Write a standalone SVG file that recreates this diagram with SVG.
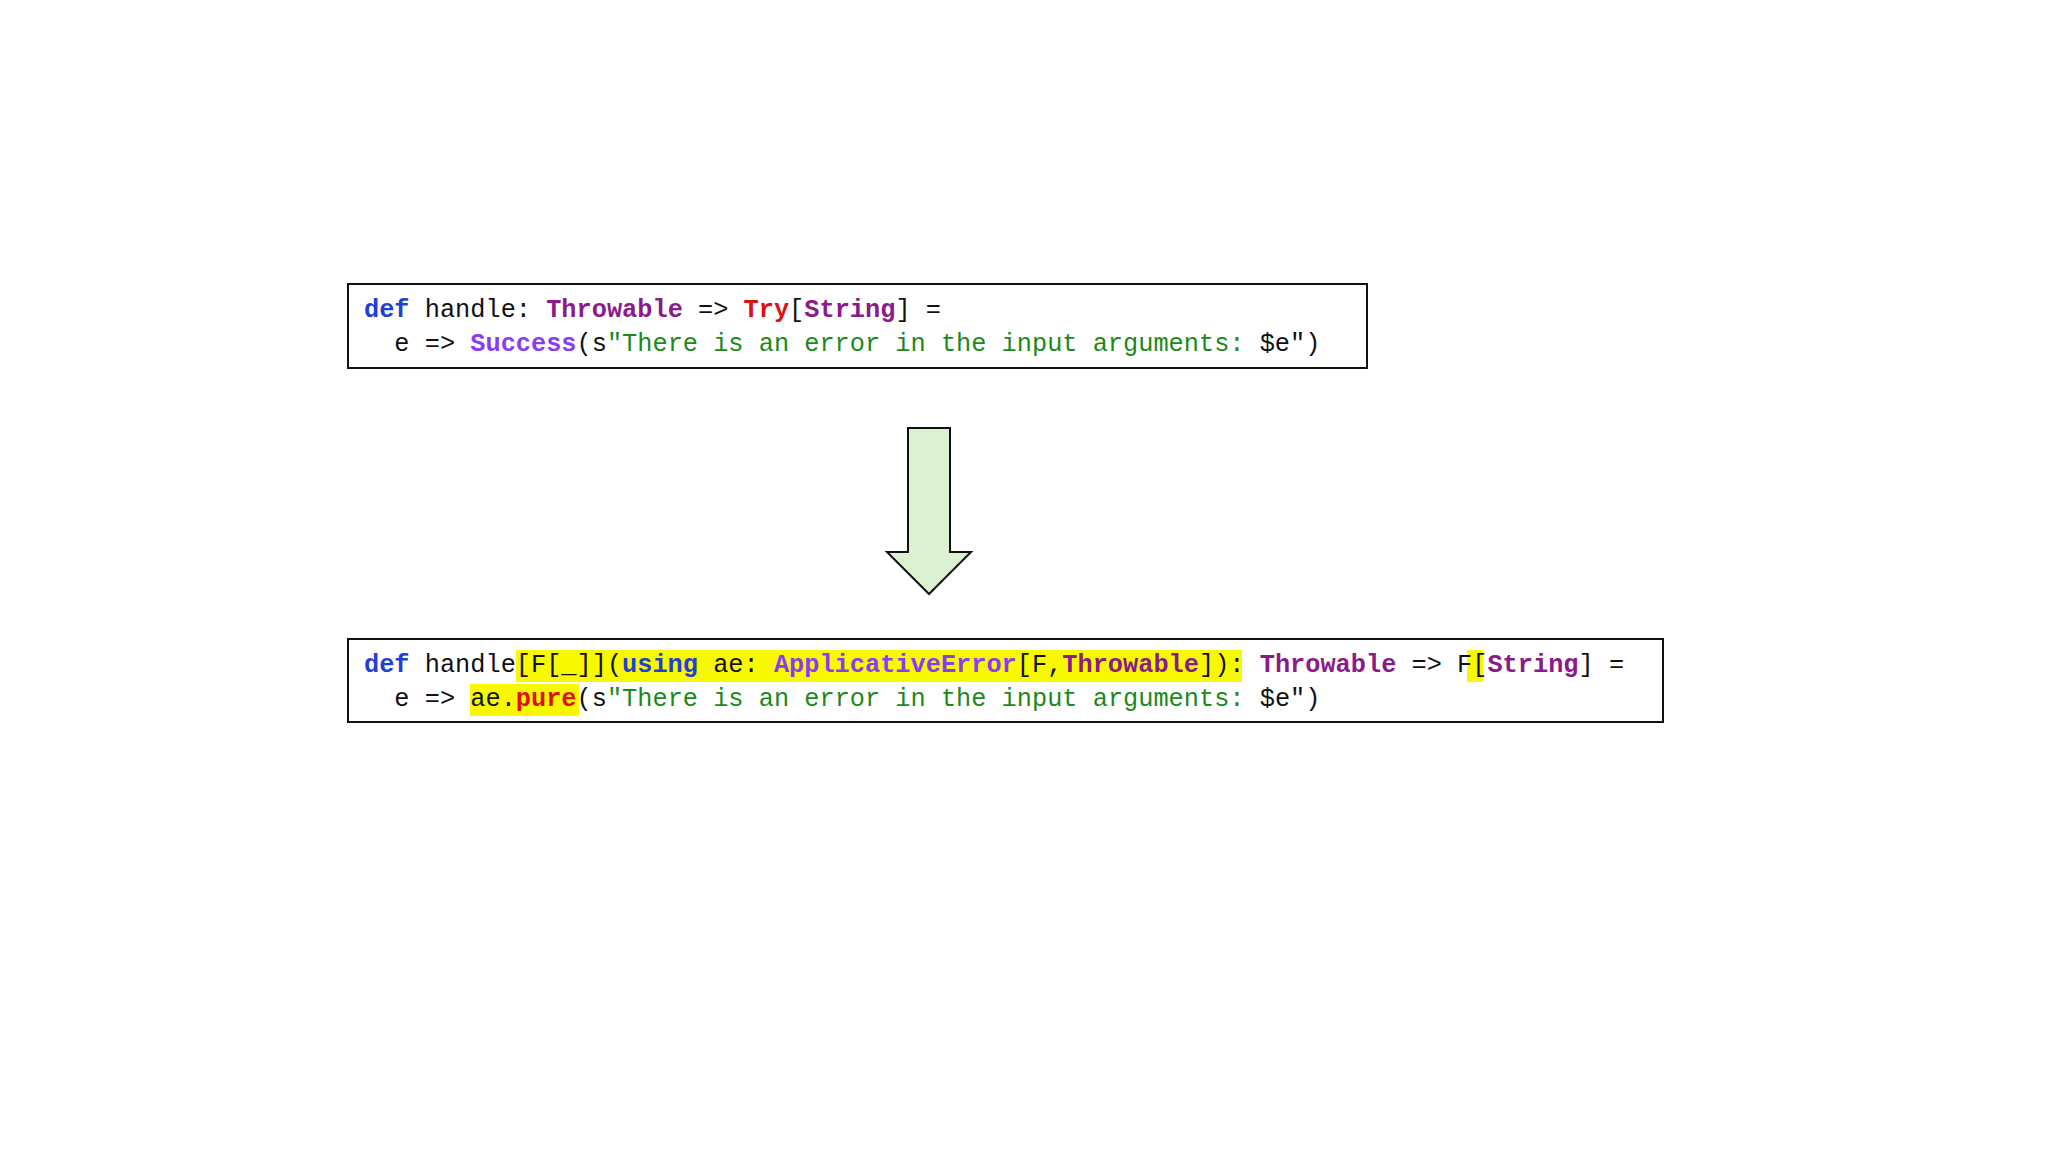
<svg xmlns="http://www.w3.org/2000/svg" width="2048" height="1152" viewBox="0 0 2048 1152">
<style>
text{font-family:"Liberation Mono","DejaVu Sans Mono",monospace;font-size:25.3px;fill:#111}
.k{fill:#1f3fd6;font-weight:bold}.t{fill:#8b1a8b;font-weight:bold}.r{fill:#e01010;font-weight:bold}
.v{fill:#8a3cf0;font-weight:bold}.g{fill:#1a8a1a}.box{fill:#fff;stroke:#111;stroke-width:2}.hl{fill:#f8f800}
</style>
<rect width="2048" height="1152" fill="#fff"/>
<g id="before">
<rect class="box" x="348" y="284" width="1019" height="84"/>
<text x="364" y="317" xml:space="preserve"><tspan class="k">def</tspan> handle: <tspan class="t">Throwable</tspan> =&gt; <tspan class="r">Try</tspan>[<tspan class="t">String</tspan>] =</text>
<text x="364" y="351" xml:space="preserve">  e =&gt; <tspan class="v">Success</tspan>(s<tspan class="g">"There is an error in the input arguments: </tspan>$e")</text>
</g>
<g id="arrow">
<polygon points="908,428 950,428 950,552 971,552 929,594 887,552 908,552" fill="#dcf0d2" stroke="#111" stroke-width="2"/>
</g>
<g id="after">
<rect class="box" x="348" y="639" width="1315" height="83"/>
<rect class="hl" x="516" y="650" width="726" height="32"/>
<rect class="hl" x="1467" y="650" width="16" height="32"/>
<rect class="hl" x="470" y="684" width="109" height="32"/>
<text x="364" y="672" xml:space="preserve"><tspan class="k">def</tspan> handle[F[_]](<tspan class="k">using</tspan> ae: <tspan class="v">ApplicativeError</tspan>[F,<tspan class="t">Throwable</tspan>]): <tspan class="t">Throwable</tspan> =&gt; F[<tspan class="t">String</tspan>] =</text>
<text x="364" y="706" xml:space="preserve">  e =&gt; ae.<tspan class="r">pure</tspan>(s<tspan class="g">"There is an error in the input arguments: </tspan>$e")</text>
</g>
</svg>
